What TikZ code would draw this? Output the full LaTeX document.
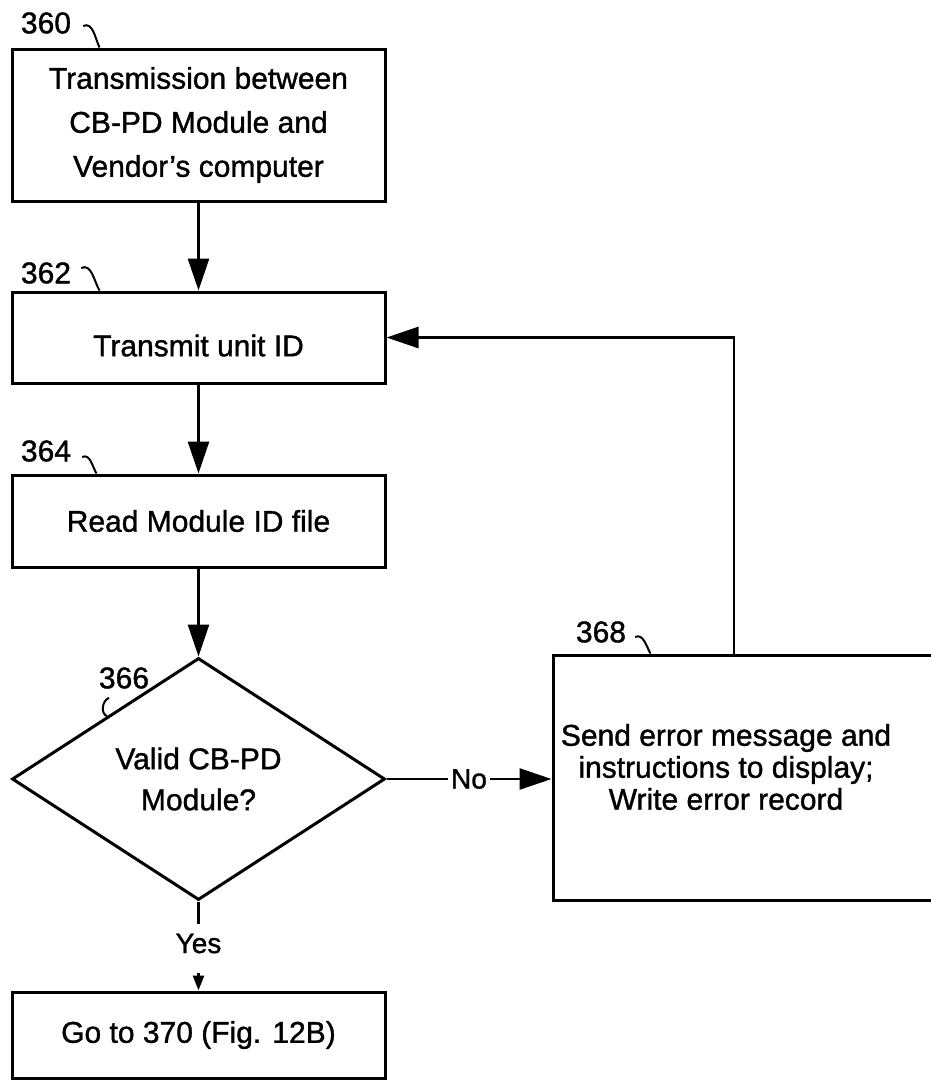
\documentclass[tikz,border=0pt]{standalone}
\usepackage{fontspec}
\setmainfont{Liberation Sans}[FakeBold=1.2]
\usetikzlibrary{arrows.meta,shapes.geometric}
\begin{document}
\begin{tikzpicture}[x=1pt,y=-1pt,
  box/.style={draw, line width=3pt, minimum width=373pt, inner sep=0pt, align=center,
              font=\fontsize{30pt}{44pt}\selectfont},
  arr/.style={line width=2.6pt, -{Triangle[length=32pt,width=21pt]}},
  lab/.style={inner sep=0pt, font=\fontsize{30pt}{36pt}\selectfont},
  yn/.style={inner sep=0pt, font=\fontsize{28pt}{34pt}\selectfont},
  lead/.style={line width=2pt}]
\clip (0,0) rectangle (931,1082);
% boxes
\node[box, minimum height=152pt] (b360) at (198.5,125) {Transmission between\\CB-PD Module and\\Vendor's computer};
\node[box, minimum height=91pt] (b362) at (198.5,337.5) {\raisebox{-8pt}[\height][\depth]{Transmit unit ID}};
\node[box, minimum height=92pt] (b364) at (198.5,521) {Read Module ID file};
\node[draw, diamond, line width=3pt, minimum width=373pt, minimum height=242pt, inner sep=0pt,
      align=center, font=\fontsize{30pt}{41pt}\selectfont] (d366) at (198.5,779) {Valid CB-PD\\Module?};
\node[draw, line width=3pt, minimum width=407pt, minimum height=245pt] (b368) at (756.5,777.5) {};
\node[align=center, inner sep=0pt, font=\fontsize{30pt}{32pt}\selectfont] (t368) at (726,767)
  {Send error message and\\instructions to display;\\Write error record};
\node[box, minimum height=86pt] (b370) at (198.5,1035) {Go to 370 (Fig. 12B)};
% reference labels
\node[lab] (l360) at (46,23) {360};
\node[lab] (l362) at (46,273) {362};
\node[lab] (l364) at (46,451) {364};
\node[lab] (l366) at (124,678) {366};
\node[lab] (l368) at (601,632) {368};
% leaders
\draw[lead] ([shift={(12pt,-3pt)}]l360.east) to[out=25,in=115] ([xshift=89pt]b360.north west);
\draw[lead] ([shift={(10pt,5pt)}]l362.east) to[out=25,in=120] ([xshift=89pt]b362.north west);
\draw[lead] ([shift={(11pt,-6pt)}]l364.east) to[out=25,in=120] ([xshift=86pt]b364.north west);
\draw[lead] ([shift={(9pt,-5pt)}]l368.east) to[out=25,in=120] ([xshift=99pt]b368.north west);
\draw[lead] ([shift={(-15pt,-9pt)}]l366.south) to[out=200,in=160] ([shift={(2.5pt,1.6pt)}]d366.north west);
% connectors
\draw[arr] (b360) -- (b362);
\draw[arr] (b362) -- (b364);
\draw[arr] (b364) -- (d366);
\draw[arr] (d366.east) -- node[yn, fill=white, inner xsep=3pt, inner ysep=2pt]{No} (d366.east -| b368.west);
\draw[arr] ([xshift=-22.5pt]b368.north) |- (b362.east);
\node[yn, inner ysep=10pt] (yes) at (198.5,943.5) {Yes};
\draw[line width=2.6pt] (d366.south) -- (yes.north);
\draw[line width=2.6pt, -{Triangle[length=15pt,width=11pt]}, shorten <=10pt] (yes.south) -- (b370.north);
\end{tikzpicture}
\end{document}
